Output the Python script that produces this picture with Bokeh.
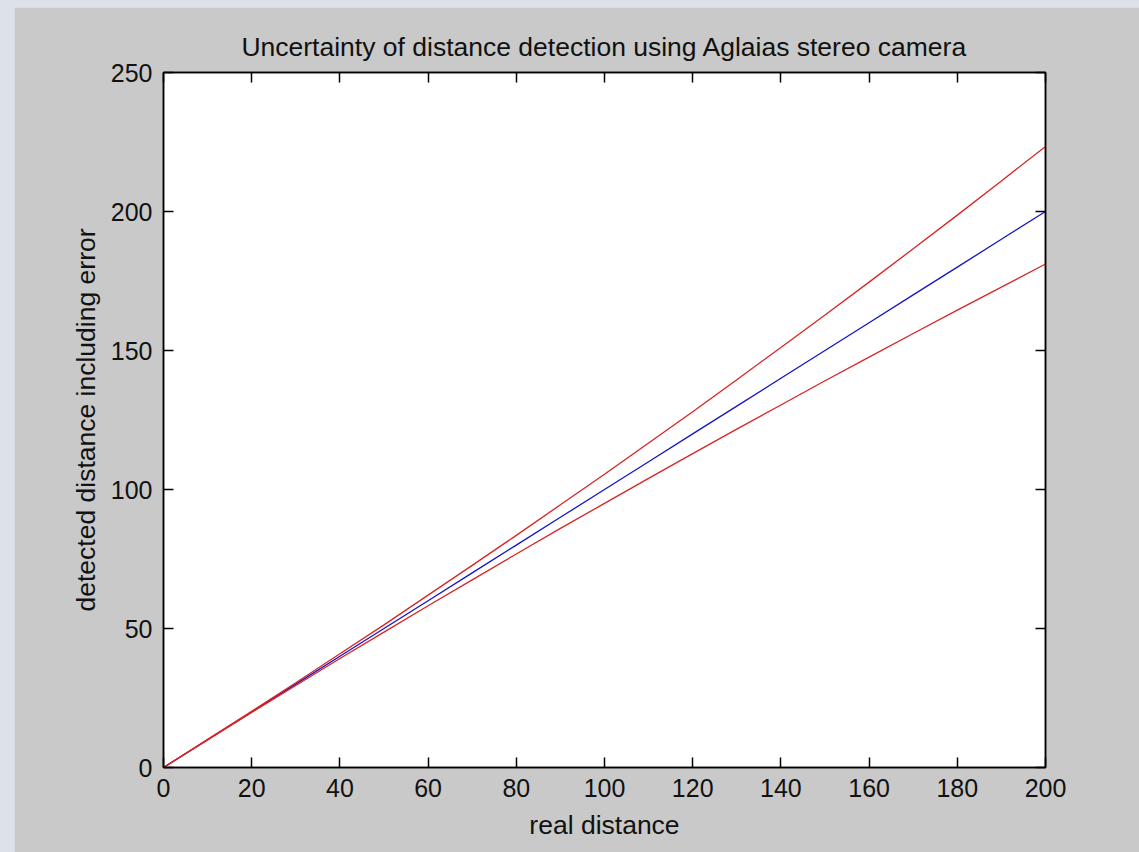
from bokeh.plotting import figure
from bokeh.models import Range1d, FixedTicker, LinearAxis, CustomLabelingPolicy, Column
from bokeh.embed import file_html
from bokeh.resources import INLINE

# ---- data ----
real_distance = [0, 10, 20, 30, 40, 50, 60, 70, 80, 90, 100,
                 110, 120, 130, 140, 150, 160, 170, 180, 190, 200]
detected = [0, 10.0, 20.0, 30.0, 40.0, 50.0, 60.0, 70.0, 80.0, 90.0, 100.0,
            110.0, 120.0, 130.0, 140.0, 150.0, 160.0, 170.0, 180.0, 190.0, 200.0]
upper_bound = [0, 10.1, 20.2, 30.5, 40.9, 51.3, 62.0, 72.7, 83.5, 94.5, 105.5,
               116.7, 128.0, 139.5, 151.1, 162.8, 174.6, 186.6, 198.7, 211.0, 223.4]
lower_bound = [0, 9.9, 19.8, 29.5, 39.2, 48.7, 58.2, 67.5, 76.8, 86.0, 95.0,
               104.0, 112.9, 121.7, 130.4, 139.1, 147.6, 156.1, 164.5, 172.8, 181.1]
x_ticks = [0, 20, 40, 60, 80, 100, 120, 140, 160, 180, 200]
y_ticks = [0, 50, 100, 150, 200, 250]

FONT = "Liberation Sans"
TICK_FS = "25px"
LABEL_FS = "26.5px"
GRAY = "#c9c9c9"
INK = "#111111"

p = figure(width=1125, height=845, output_backend="svg", toolbar_location=None,
           x_range=Range1d(0, 200), y_range=Range1d(0, 250),
           x_axis_location=None, y_axis_location=None,
           min_border_left=149, min_border_right=94,
           min_border_top=65, min_border_bottom=85,
           background_fill_color="white", border_fill_color=GRAY,
           margin=(7, 0, 0, 14))
p.grid.visible = False
p.outline_line_color = "black"
p.outline_line_width = 1.5

p.title.text = "Uncertainty of distance detection using Aglaias stereo camera"
p.title.text_font = FONT
p.title.text_font_size = LABEL_FS
p.title.text_font_style = "normal"
p.title.text_color = INK
p.title.align = "center"
p.title.offset = -4
p.title.standoff = 22

# policy that hides every label (for the mirrored top/right tick axes)
hide_all = CustomLabelingPolicy(code="""
for (let i = 0; i < indices.size; i++) { indices.unset(i) }
return indices
""")


def style_axis(ax, ticks, show_labels):
    ax.ticker = FixedTicker(ticks=ticks)
    ax.major_tick_in = 10
    ax.major_tick_out = 0
    ax.minor_tick_line_color = None
    ax.axis_line_color = "black"
    ax.axis_line_width = 1.5
    ax.major_tick_line_color = "black"
    ax.major_tick_line_width = 1.5
    ax.major_label_text_font = FONT
    ax.major_label_text_color = INK
    if show_labels:
        ax.major_label_text_font_size = TICK_FS
        ax.axis_label_text_font = FONT
        ax.axis_label_text_font_size = LABEL_FS
        ax.axis_label_text_font_style = "normal"
        ax.axis_label_text_color = INK
    else:
        ax.major_label_text_font_size = "0px"
        ax.major_label_policy = hide_all
        ax.major_label_standoff = 0


xb = LinearAxis(axis_label="real distance")
style_axis(xb, x_ticks, True)
xb.major_label_standoff = 11
xb.axis_label_standoff = 10
p.add_layout(xb, "below")

yl = LinearAxis(axis_label="detected distance including error")
style_axis(yl, y_ticks, True)
yl.major_label_standoff = 11
yl.axis_label_standoff = 7
p.add_layout(yl, "left")

xt = LinearAxis()
style_axis(xt, x_ticks, False)
p.add_layout(xt, "above")

yr = LinearAxis()
style_axis(yr, y_ticks, False)
p.add_layout(yr, "right")

p.line(real_distance, detected, line_color="#1414c8", line_width=1.3)
p.line(real_distance, upper_bound, line_color="#d82424", line_width=1.3)
p.line(real_distance, lower_bound, line_color="#d82424", line_width=1.3)

root = Column(children=[p], styles={"background-color": "#dde1e8"})

open("out.html", "w").write(file_html(root, INLINE))
